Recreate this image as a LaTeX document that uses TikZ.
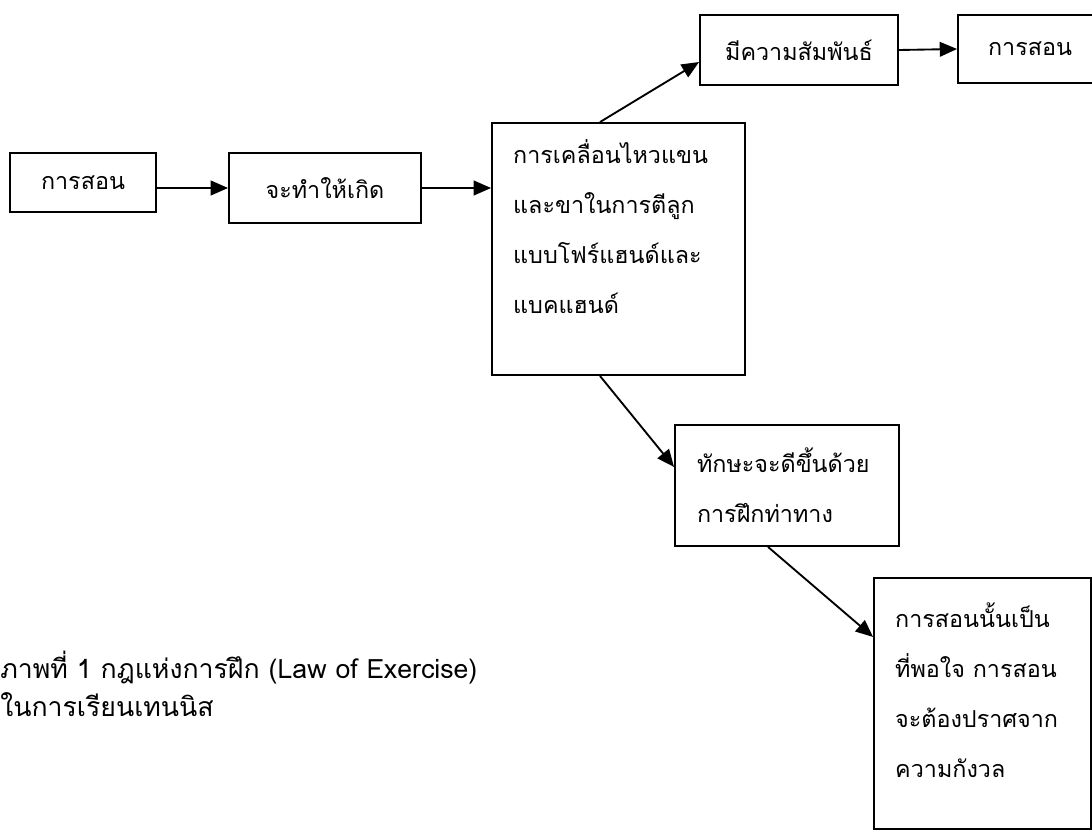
\documentclass[tikz,border=0pt]{standalone}
\usepackage{fontspec}
\newfontfamily\thaifont[Script=Thai]{Loma}
\usepackage{tikz}
\usetikzlibrary{arrows.meta,positioning}
\tikzset{
  block/.style={
    rectangle, draw=black, line width=1.4pt, fill=white,
    font=\thaifont\fontsize{17.5pt}{37.5pt}\selectfont,
    anchor=center, inner sep=0pt
  },
  textblock/.style={
    block, align=left
  },
  arrow/.style={-{Triangle[length=13pt,width=11pt]}, line width=1.4pt}
}

\begin{document}
\begin{tikzpicture}[x=0.75pt, y=-0.75pt]
  \useasboundingbox (0,0) rectangle (1092,832);

  % Row 1: left chain
  \node[block, minimum width=109.5pt, minimum height=44.25pt]
    (teach) at (83,182.5) {การสอน};
  \node[block, minimum width=144pt, minimum height=52.5pt]
    (cause) at (325,188) {จะทำให้เกิด};
  \node[textblock, text width=158pt, minimum width=189.75pt, minimum height=189pt]
    (move) at (618.5,249) {การเคลื่อนไหวแขน\\และขาในการตีลูก\\แบบโฟร์แฮนด์และ\\แบคแฮนด์\\[-4pt]\mbox{}};

  % Top: relation
  \node[block, minimum width=148.5pt, minimum height=52.5pt]
    (rel) at (799,50) {มีความสัมพันธ์};
  \node[block, minimum width=108pt, minimum height=51pt]
    (teach2) at (1030,49) {การสอน};

  % Bottom: practice
  \node[textblock, text width=135pt, minimum width=168pt, minimum height=90.75pt]
    (skill) at (787,485.5) {ทักษะจะดีขึ้นด้วย\\การฝึกท่าทาง};
  \node[textblock, text width=131pt, minimum width=162.75pt, minimum height=188.25pt]
    (calm) at (982.5,703.5) {การสอนนั้นเป็น\\ที่พอใจ~การสอน\\จะต้องปราศจาก\\ความกังวล\\[-18pt]\mbox{}};

  % Caption
  \node[anchor=west, align=left, inner sep=0pt,
        font=\thaifont\fontsize{20pt}{28.5pt}\selectfont]
    (figcap) at (0,684) {ภาพที่ 1 กฎแห่งการฝึก (Law of Exercise)\\ในการเรียนเทนนิส};

  \draw[arrow] (teach.east |- cause.west) -- (cause.west);
  \draw[arrow] (cause.east) -- (cause.east -| move.west);
  \draw[arrow] ([xshift=-13.9pt]move.north) -- ([yshift=-9pt]rel.west);
  \draw[arrow] (rel.east) -- (teach2.west);
  \draw[arrow] ([xshift=-13.9pt]move.south) -- ([yshift=13.9pt]skill.west);
  \draw[arrow] ([xshift=-14.25pt]skill.south) -- ([yshift=49.9pt]calm.west);
\end{tikzpicture}
\end{document}
